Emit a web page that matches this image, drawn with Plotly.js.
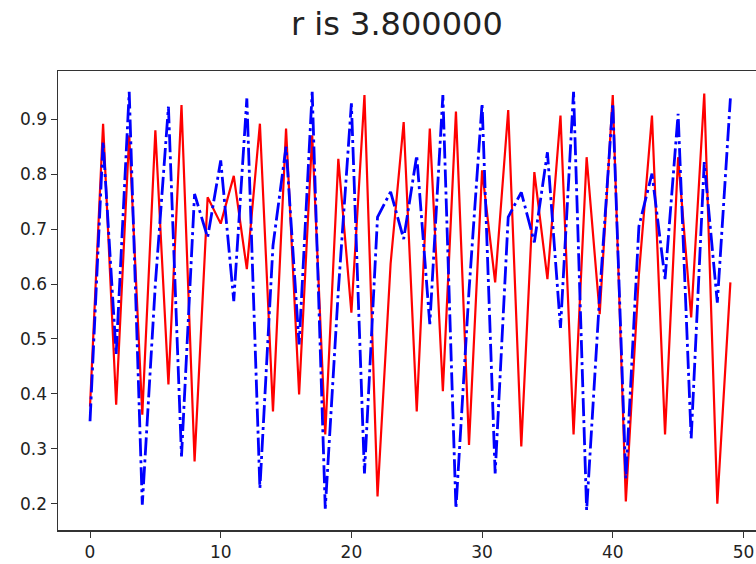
<!DOCTYPE html>
<html>
<head>
<meta charset="utf-8">
<script src="https://cdn.plot.ly/plotly-3.0.1.min.js"></script>
<style>html,body{margin:0;padding:0;background:#fff;}#chart{width:756px;height:564px;}</style>
</head>
<body>
<div id="chart"></div>
<script>
const steps = [0,1,2,3,4,5,6,7,8,9,10,11,12,13,14,15,16,17,18,19,20,21,22,23,24,25,26,27,28,29,30,31,32,33,34,35,36,37,38,39,40,41,42,43,44,45,46,47,48,49];
const blueSeries = [0.350,0.859,0.472,0.950,0.198,0.600,0.923,0.286,0.764,0.685,0.825,0.569,0.938,0.228,0.670,0.850,0.490,0.950,0.191,0.588,0.929,0.255,0.722,0.768,0.682,0.834,0.527,0.944,0.191,0.588,0.929,0.255,0.722,0.767,0.676,0.840,0.520,0.950,0.188,0.580,0.929,0.246,0.705,0.801,0.609,0.910,0.319,0.822,0.566,0.938];
const redSeries = [0.377,0.892,0.380,0.871,0.362,0.880,0.417,0.926,0.277,0.758,0.710,0.797,0.627,0.892,0.368,0.883,0.399,0.871,0.326,0.828,0.548,0.944,0.213,0.637,0.895,0.368,0.883,0.405,0.914,0.307,0.807,0.603,0.917,0.304,0.804,0.609,0.907,0.326,0.831,0.545,0.944,0.204,0.617,0.907,0.326,0.831,0.539,0.947,0.200,0.603];
const titleText = "r is 3.800000";
const xTicks = [0,10,20,30,40,50];
const yTicks = [0.2,0.3,0.4,0.5,0.6,0.7,0.8,0.9];

const traces = [
  {x: steps, y: redSeries, type: 'scatter', mode: 'lines', line: {color: '#ff0000', width: 2.2}, hoverinfo: 'skip'},
  {x: steps, y: blueSeries, type: 'scatter', mode: 'lines', line: {color: '#0000ff', width: 2.8, dash: '18px,4px,3px,4px'}, hoverinfo: 'skip'}
];
const layout = {
  width: 756, height: 564,
  margin: {l: 58, r: 0, t: 71, b: 34},
  paper_bgcolor: '#fff', plot_bgcolor: '#fff',
  showlegend: false,
  font: {family: 'DejaVu Sans', color: '#222'},
  title: {text: titleText, x: 0.525, xanchor: 'center', y: 0.957, yanchor: 'middle', font: {size: 32, family: 'DejaVu Sans', color: '#222'}},
  xaxis: {range: [-2.45, 50.96], tickvals: xTicks, ticktext: xTicks.map(String), showgrid: false, zeroline: false,
          showline: true, linecolor: '#333', linewidth: 1.5, mirror: true, ticks: 'outside', ticklen: 6, tickcolor: '#333',
          tickfont: {size: 17, color: '#222'}},
  yaxis: {range: [0.152, 0.988], tickvals: yTicks, ticktext: yTicks.map(v => v.toFixed(1)), showgrid: false, zeroline: false,
          showline: true, linecolor: '#333', linewidth: 1.5, ticks: 'outside', ticklen: 6, tickcolor: '#333',
          tickfont: {size: 17, color: '#222'}}
};
Plotly.newPlot('chart', traces, layout, {staticPlot: true, displayModeBar: false});
</script>
</body>
</html>
